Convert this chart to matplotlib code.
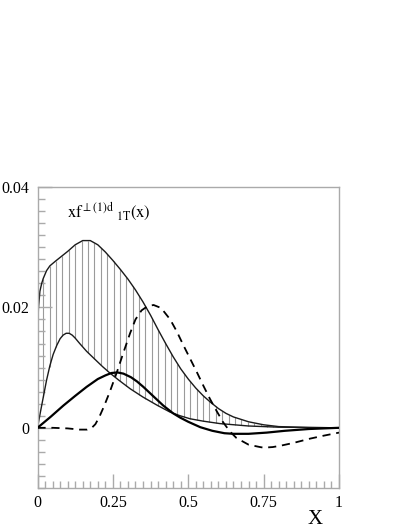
import numpy as np
import matplotlib
matplotlib.use("Agg")
import matplotlib.pyplot as plt
from matplotlib.ticker import MultipleLocator, FixedLocator

plt.rcParams['font.family'] = ['Liberation Serif', 'DejaVu Serif']
plt.rcParams['mathtext.fontset'] = 'stix'

# ---- data ----
x_upper = [0, 0.003, 0.008, 0.014, 0.019, 0.03, 0.041, 0.06, 0.075, 0.1, 0.125, 0.15, 0.175,
           0.2, 0.225, 0.25, 0.275, 0.3, 0.325, 0.35, 0.375, 0.4, 0.425, 0.45, 0.475, 0.5,
           0.525, 0.55, 0.575, 0.6, 0.625, 0.65, 0.7, 0.75, 0.8, 0.9, 1.0]
y_upper = [0.0140, 0.0198, 0.0227, 0.0240, 0.0248, 0.0261, 0.0269, 0.0277, 0.0283, 0.0293,
           0.0304, 0.0311, 0.0311, 0.0304, 0.0292, 0.0278, 0.0263, 0.0247, 0.0229, 0.0209,
           0.0187, 0.0163, 0.0140, 0.0118, 0.0098, 0.0081, 0.0066, 0.0053, 0.0042, 0.0032,
           0.0024, 0.0018, 0.0010, 0.0005, 0.0002, 0.00005, 0.0]

x_lower = [0, 0.01, 0.02, 0.03, 0.041, 0.052, 0.064, 0.075, 0.085, 0.095, 0.105, 0.115,
           0.125, 0.14, 0.163, 0.19, 0.215, 0.24, 0.27, 0.307, 0.35, 0.395, 0.44, 0.473,
           0.506, 0.55, 0.605, 0.7, 0.8, 1.0]
y_lower = [0.0, 0.0027, 0.0053, 0.0079, 0.0103, 0.0122, 0.0137, 0.0148, 0.0154, 0.0157,
           0.0157, 0.0154, 0.0149, 0.0140, 0.0127, 0.0114, 0.0102, 0.0091, 0.0079, 0.0065,
           0.0051, 0.0038, 0.0026, 0.0020, 0.0015, 0.0011, 0.0007, 0.0003, 0.0001, 0.0]

x_thick = [0, 0.043, 0.086, 0.125, 0.163, 0.2, 0.225, 0.245, 0.265, 0.285, 0.31, 0.33,
           0.351, 0.385, 0.417, 0.45, 0.473, 0.5, 0.54, 0.58, 0.62, 0.65, 0.7, 0.76, 0.82,
           0.9, 1.0]
y_thick = [0.0, 0.0018, 0.0037, 0.0053, 0.0068, 0.0081, 0.0087, 0.0091, 0.0092, 0.0090,
           0.0084, 0.0077, 0.0068, 0.0052, 0.0037, 0.0024, 0.0017, 0.0010, 0.0001,
           -0.0005, -0.0009, -0.0010, -0.0010, -0.0008, -0.0005, -0.0002, 0.0]

x_dash = [0, 0.05, 0.1, 0.14, 0.165, 0.18, 0.192, 0.205, 0.22, 0.24, 0.263, 0.285, 0.307,
          0.325, 0.345, 0.365, 0.385, 0.41, 0.44, 0.462, 0.484, 0.506, 0.528, 0.55, 0.572,
          0.594, 0.616, 0.638, 0.66, 0.7, 0.738, 0.75, 0.78, 0.804, 0.85, 0.904, 0.95, 1.0]
y_dash = [0.0, 0.0, -0.0001, -0.0003, -0.0003, 0.0, 0.0006, 0.0018, 0.0035, 0.0060,
          0.0092, 0.0125, 0.0157, 0.0180, 0.0195, 0.0202, 0.0204, 0.0199, 0.0180, 0.0160,
          0.0137, 0.0115, 0.0093, 0.0070, 0.0048, 0.0028, 0.0009, -0.0006, -0.0017,
          -0.0028, -0.0032, -0.0033, -0.0032, -0.0030, -0.0025, -0.0018, -0.0013, -0.0008]

x_ticks = [0, 0.25, 0.5, 0.75, 1]
x_ticklabels = ['0', '0.25', '0.5', '0.75', '1']
y_ticks = [0, 0.02, 0.04]
y_ticklabels = ['0', '0.02', '0.04']

# ---- figure ----
W, H = 407, 527
fig = plt.figure(figsize=(W / 100, H / 100), dpi=100)
ax = fig.add_axes([37.5 / W, 1 - 488 / H, 301.5 / W, 301 / H])
ax.set_xlim(0, 1)
ax.set_ylim(-0.01, 0.04)

# hatching (vertical lines between band edges)
hx = np.arange(0.019, 1.0, 0.0212)
hlo = np.interp(hx, x_lower, y_lower)
hhi = np.interp(hx, x_upper, y_upper)
ax.vlines(hx, hlo, hhi, colors='#9a9a9a', linewidth=0.8, zorder=1)

ax.plot(x_upper, y_upper, color='#1a1a1a', lw=1.0, zorder=2, solid_joinstyle='round')
ax.plot(x_lower, y_lower, color='#1a1a1a', lw=1.0, zorder=2, solid_joinstyle='round')
ax.plot(x_thick, y_thick, color='black', lw=1.6, zorder=3, solid_joinstyle='round')
ax.plot(x_dash, y_dash, color='black', lw=1.3, dashes=(4.5, 3.2), zorder=3)

# axes styling
for s in ax.spines.values():
    s.set_color('#aaaaaa')
    s.set_linewidth(1.0)
ax.xaxis.set_major_locator(FixedLocator(x_ticks))
ax.set_xticklabels(x_ticklabels)
ax.yaxis.set_major_locator(FixedLocator(y_ticks))
ax.set_yticklabels(y_ticklabels)
ax.xaxis.set_minor_locator(MultipleLocator(0.025))
ax.yaxis.set_minor_locator(MultipleLocator(0.002))
ax.tick_params(axis='both', which='both', direction='in', color='#aaaaaa',
               top=False, right=False, labelsize=11.5, labelcolor='black')
ax.tick_params(axis='both', which='major', length=10, width=1.0)
ax.tick_params(axis='both', which='minor', length=5, width=1.0)
ax.tick_params(axis='x', which='major', pad=5)
ax.tick_params(axis='y', which='major', pad=6)

ax.text(0.098, 0.897, r'$\mathrm{xf}^{\perp(1)\mathrm{d}}\;{}_{\mathrm{1T}}\mathrm{(x)}$',
        transform=ax.transAxes, fontsize=12, va='baseline', ha='left')

fig.text(315 / W, 1 - 519 / H, 'X', fontsize=15, ha='center', va='center')

fig.savefig('out.png', dpi=100)
